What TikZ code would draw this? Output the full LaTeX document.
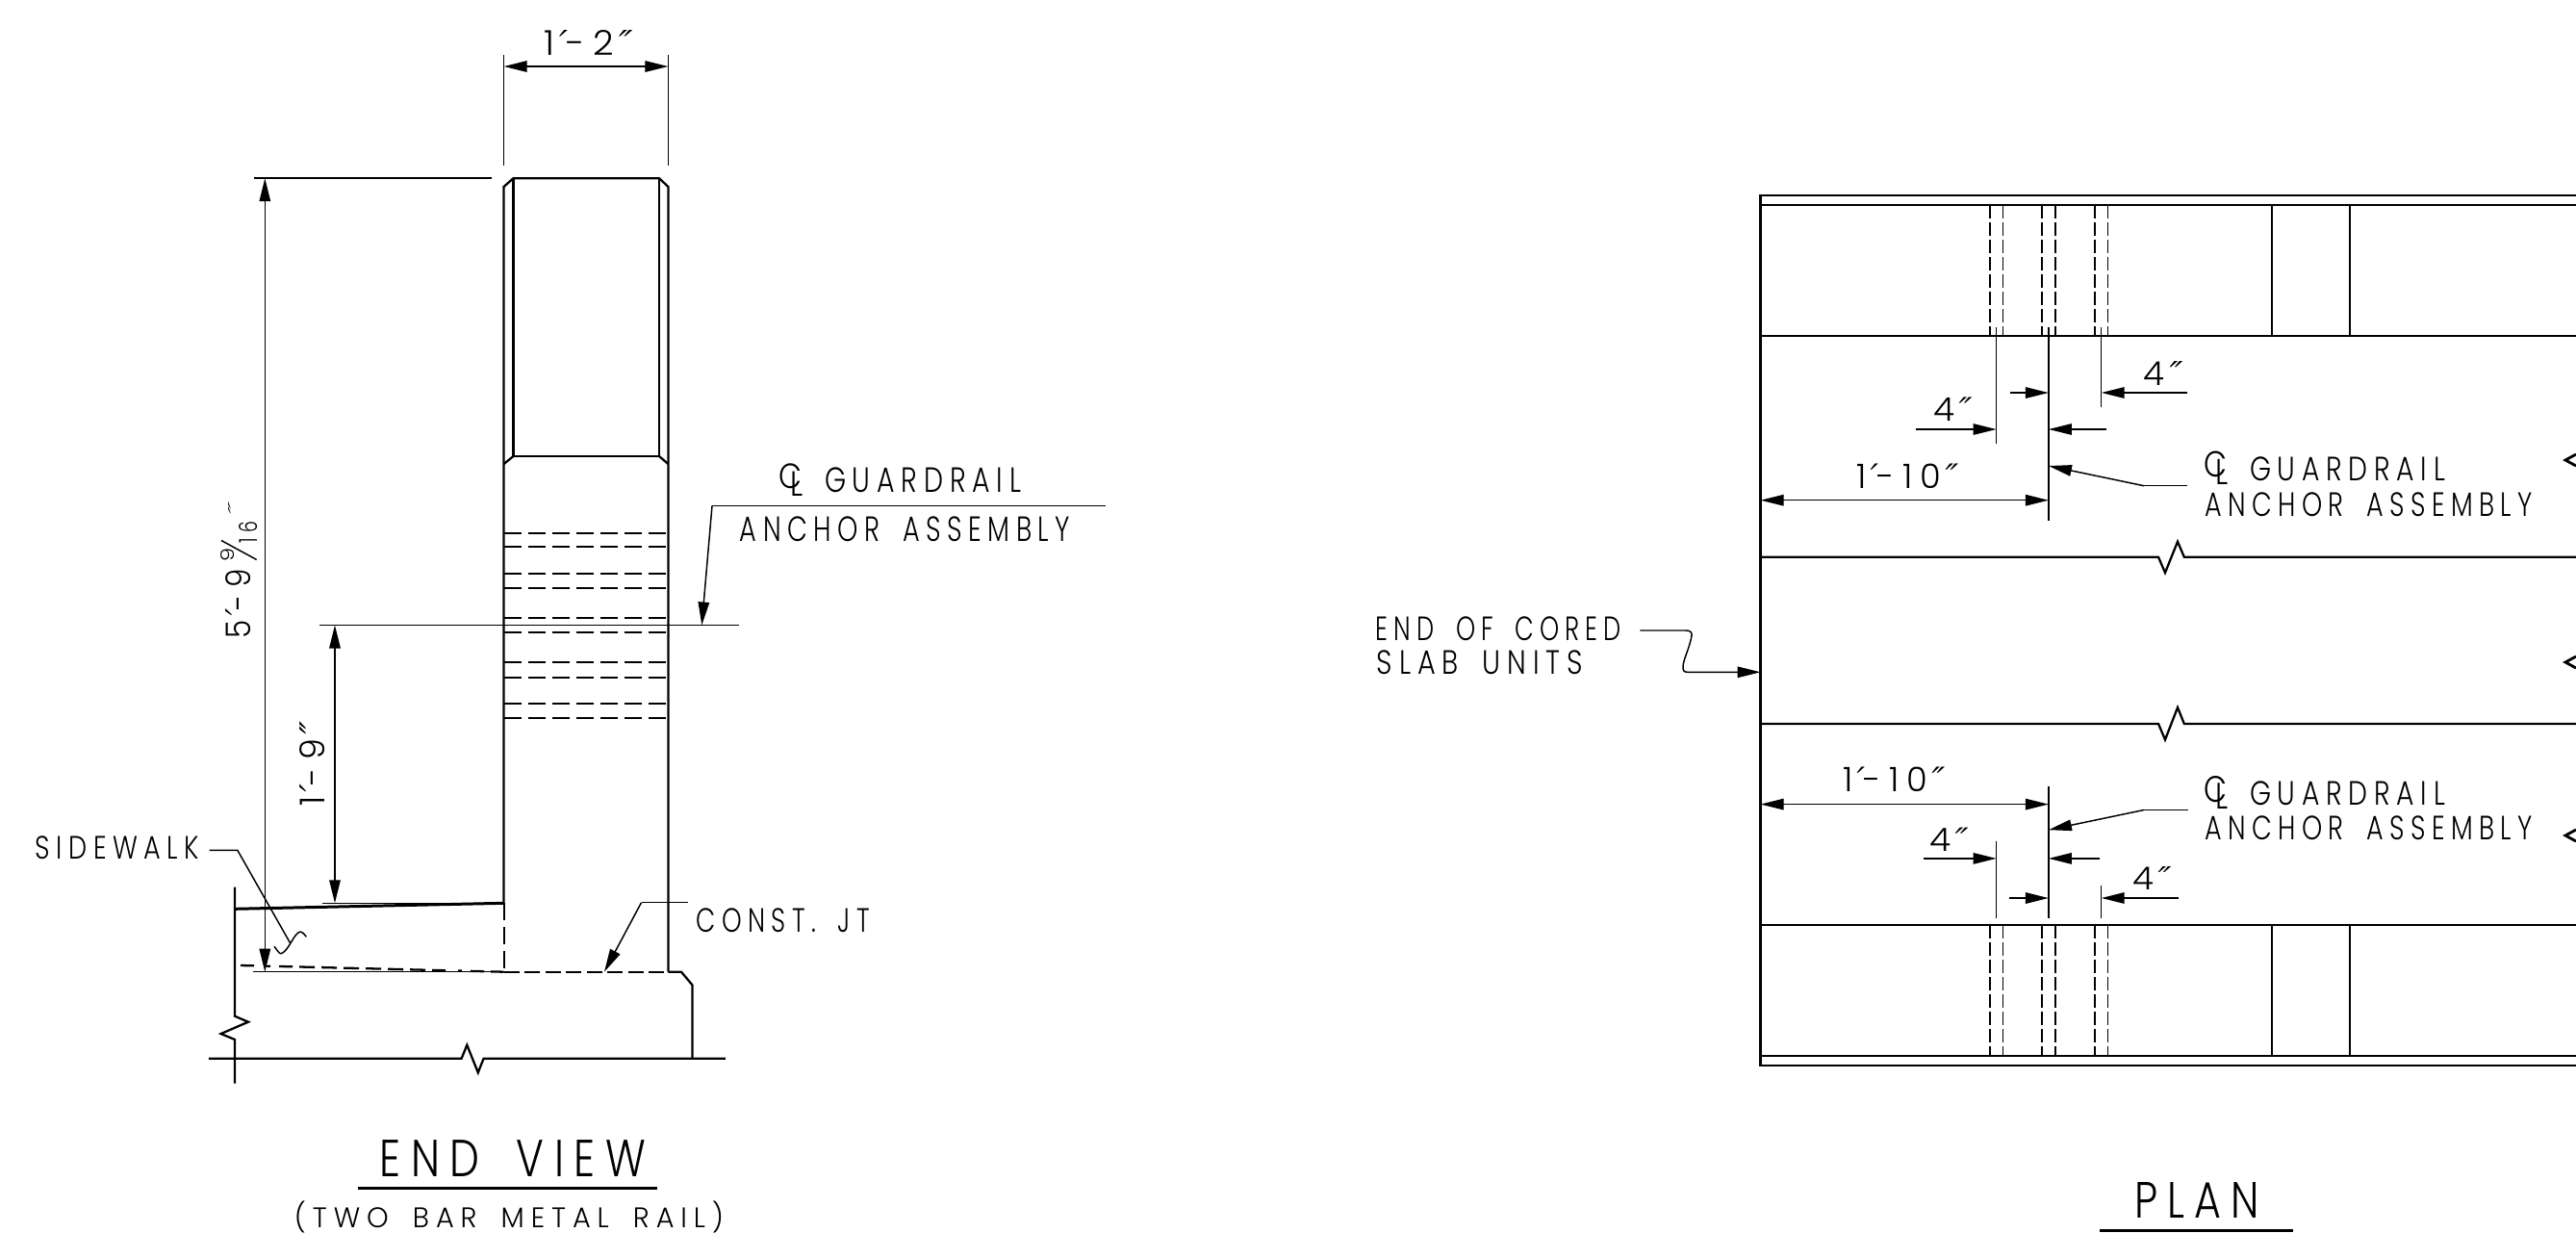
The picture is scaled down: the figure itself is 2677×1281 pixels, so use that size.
\documentclass[tikz,border=0pt]{standalone}
\usepackage{fontspec}
\usepackage{graphicx}
\usetikzlibrary{arrows.meta}
\newfontfamily\cadfont[LetterSpace=24,WordSpace=1.7]{Poppins Light}
\newfontfamily\clfont{Poppins Light}
\newfontfamily\slfont[FakeSlant=0.3]{DejaVu Sans}
\newcommand\pp{\kern-0.05em{\slfont ′}\kern0.14em}
\newcommand\ppp{\kern-0.05em{\slfont ″}}
\newlength{\pxu}\setlength{\pxu}{0.01cm}
\tikzset{
  lbl/.style={inner sep=0pt,outer sep=0pt,text=black},
  obj/.style={line width=0.65pt,line cap=butt},
  dimln/.style={line width=0.42pt},
  tip/.style={-{Triangle[length=0.24cm,width=0.115cm]}},
  tips/.style={{Triangle[length=0.24cm,width=0.115cm]}-{Triangle[length=0.24cm,width=0.115cm]}},
  hid/.style={line width=0.55pt,dash pattern=on 0.18cm off 0.07cm},
  hidv/.style={line width=0.42pt,dash pattern=on 0.135cm off 0.045cm},
  titleline/.style={line width=0.85pt}
}
% [options]{name}{x,y}{width}{height}{text}
\newcommand\lab[5][]{\node[lbl,#1] (#2) at (#3) {\resizebox*{#4\pxu}{#5\pxu}{\cadfont\labtext}};}
\newcommand\T[6][]{\def\labtext{#6}\lab[#1]{#2}{#3}{#4}{#5}}
\newcommand\CL[3]{\node[lbl] (#1) at (#2) {\resizebox*{25\pxu}{#3\pxu}{\clfont C\kern-0.39em\lower0.2em\hbox{L}}};}
\begin{document}
\begin{tikzpicture}[x=0.01cm,y=-0.01cm]
\useasboundingbox (0,0) rectangle (2677,1281);
%% ---------- END VIEW ----------
\coordinate (pTL) at (523.6,194);
\coordinate (pTR) at (694.4,194);
% post
\draw[obj] (523.6,938.3) -- (pTL) -- (533.5,185.2) -- (685,185.2) -- (pTR) -- (694.4,1009.7);
\draw[obj] (533.5,185.2) -- (533.5,474) -- (685,474) -- (685,185.2);
\draw[obj] (523.6,482) -- (533.5,474) (685,474) -- (694.4,482);
\foreach \yy in {553.6,568.4,596,610.7,641.8,657,688.3,703.6,730.6,745.9}
  \draw[hid] (523.6,\yy) -- (694.4,\yy);
% slab
\draw[obj] (244,921.7) -- (244,1055.7) -- (258,1061.7) -- (229.6,1074) -- (244,1080) -- (244,1125.7);
\draw[line width=0.85pt] (244,944.3) -- (523.6,938.3);
\draw[hid] (523.6,938.3) -- (523.6,1009.7);
\draw[dimln] (263,1009.7) -- (523.6,1009.7);
\draw[hid,dash pattern=on 0.16cm off 0.055cm] (523.6,1009.7) -- (694.4,1009.7);
\draw[obj,dash pattern=on 0.14cm off 0.13cm on 0.04cm off 0.09cm on 0.14cm off 0.07cm on 0.16cm off 0.07cm on 0.16cm off 0.07cm on 0.16cm off 0.07cm on 0.16cm off 0.07cm on 0.16cm off 0.07cm on 0.16cm off 0.07cm]
  (250,1003) -- (523.6,1009.7);
\draw[obj] (694.4,1009.7) -- (708,1009.7) -- (719.4,1023.3) -- (719.4,1099.7);
\draw[obj] (216.8,1099.7) -- (470.7,1099.7) -- (479.6,1099.7) -- (485.3,1085.7) -- (496.8,1114.3) -- (502.6,1099.7) -- (753.8,1099.7);
% dimensions
\draw[dimln] (523.6,57) -- (523.6,172.4) (694.4,57) -- (694.4,172.4);
\draw[dimln,tips] (523.6,69) -- (694.4,69);
\draw[dimln] (264,185.2) -- (511,185.2);
\draw[dimln,tips] (275.3,185.2) -- (275.3,1009.7);
\draw[dimln] (332,649.5) -- (767.6,649.5);
\draw[dimln,tips] (348,649.5) -- (348,938.3);
\draw[dimln] (335,938.3) -- (523.6,938.3);
\T{d1}{608,44.6}{85}{26}{1\pp-2\ppp}
\T[rotate=90]{d2a}{248,627}{72}{26}{5\pp-9}
\T[rotate=90]{d2b}{236.5,576}{14}{14}{9}
\T[rotate=90]{d2c}{257.6,553}{22}{19}{16}
\T[rotate=90]{d2d}{243,533}{11}{10}{\ppp}
\draw[dimln] (230,561.5) -- (266.7,581.5);
\T[rotate=90]{d3}{325,797}{81}{26}{1\pp-9\ppp}
% labels
\T{g1}{959,499}{204}{26}{GUARDRAIL}
\CL{g1cl}{822,498.5}{33}
\T{g2}{940.5,550}{343}{26}{ANCHOR ASSEMBLY}
\coordinate (g1shelf) at (1149,525.5);
\coordinate (g1knee) at (740,525.5);
\coordinate (g1tip) at (729.3,649.5);
\draw[dimln] (g1shelf) -- (g1knee);
\draw[dimln,tip] (g1knee) -- (g1tip);
\T{sw}{122,881}{170}{24}{SIDEWALK}
\coordinate (swa) at (217.5,883.3);
\coordinate (swb) at (246.8,883.3);
\coordinate (swc) at (301.7,980);
\draw[dimln] (swa) -- (swb) -- (swc);
\draw[dimln] (285,983.3) .. controls (288,987) and (290,991) .. (292,990.7) .. controls (298,989) and (303,977) .. (307,972) .. controls (311,967) and (313,966) .. (318.3,973.3);
\T{cj}{814,956.7}{180}{25}{CONST. JT}
\coordinate (cja) at (715,937.7);
\coordinate (cjb) at (666.5,937.7);
\coordinate (cjc) at (628,1009.7);
\draw[dimln] (cja) -- (cjb);
\draw[dimln,tip] (cjb) -- (cjc);
\T{t1}{533,1204}{276}{38}{END VIEW}
\draw[titleline] (372.4,1234.3) -- (683,1234.3);
\T{t2}{529,1264}{446}{33}{(TWO BAR METAL RAIL)}
%% ---------- PLAN ----------
\draw[obj] (2677,203.3) -- (1829.6,203.3) -- (1829.6,1106.7) -- (2677,1106.7);
\draw[obj] (1829.6,213.3) -- (2677,213.3);
\draw[obj] (1829.6,349.3) -- (2677,349.3);
\draw[obj] (1829.6,961) -- (2677,961);
\draw[obj] (1829.6,1096.7) -- (2677,1096.7);
\draw[obj] (2361,213.3) -- (2361,349.3) (2442,213.3) -- (2442,349.3);
\draw[obj] (2361,961) -- (2361,1096.7) (2442,961) -- (2442,1096.7);
\foreach \xx in {2067.9,2081.3,2122.1,2136,2177,2190.4}{
  \draw[hidv] (\xx,213.3) -- (\xx,349.3);
  \draw[hidv] (\xx,961) -- (\xx,1096.7);
}
\foreach \yy/\ya/\yb in {578.7/562.7/595,751.9/735/768.5}
  \draw[obj] (1829.6,\yy) -- (2239.6,\yy) -- (2243,\yy) -- (2250,\yb) -- (2263,\ya) -- (2269.8,\yy) -- (2677,\yy);
% arrowheads cut by the picture edge
\foreach \yy in {478,688,868}
  \draw[obj,line width=0.8pt] (2677,\yy-6) -- (2666,\yy) -- (2677,\yy+6);
% top dimensions
\draw[dimln] (2074.6,340) -- (2074.6,460.7) (2128.9,340) -- (2128.9,540.7) (2183.7,340) -- (2183.7,423.3);
\draw[dimln,tip] (2088.6,408) -- (2128.9,408);
\draw[dimln,tip] (2273,408) -- (2183.7,408);
\draw[dimln,tip] (1990.7,446) -- (2074.6,446);
\draw[dimln,tip] (2189,446) -- (2128.9,446);
\draw[dimln,tips] (1829.6,519.7) -- (2128.9,519.7);
\T{p1}{1979,494.5}{100}{25.6}{1\pp-10\ppp}
\T{p2}{2026.5,425}{33.6}{24.6}{4\ppp}
\T{p3}{2244.6,387.5}{33.5}{25}{4\ppp}
\T{p4}{2439.5,487.5}{203}{25}{GUARDRAIL}
\CL{p4cl}{2303,486}{34}
\T{p5}{2461.5,524.2}{341}{25}{ANCHOR ASSEMBLY}
\coordinate (p4a) at (2273,504.7);
\coordinate (p4b) at (2227.9,504.7);
\coordinate (p4c) at (2128.9,484);
\draw[dimln] (p4a) -- (p4b);
\draw[dimln,tip] (p4b) -- (p4c);
% bottom dimensions
\draw[dimln] (2074.6,874) -- (2074.6,953.7) (2128.9,816.7) -- (2128.9,953.7) (2183.7,920) -- (2183.7,953.7);
\draw[dimln,tip] (1999,891.9) -- (2074.6,891.9);
\draw[dimln,tip] (2182,891.9) -- (2128.9,891.9);
\draw[dimln,tip] (2087.5,933) -- (2128.9,933);
\draw[dimln,tip] (2264,933) -- (2183.7,933);
\draw[dimln,tips] (1829.6,835.6) -- (2128.9,835.6);
\T{p6}{1965,810.2}{100}{25.6}{1\pp-10\ppp}
\T{p7}{2021.9,872.2}{33.8}{24.4}{4\ppp}
\T{p8}{2233.4,912.5}{33.5}{24}{4\ppp}
\T{p9}{2439.5,824}{203}{25}{GUARDRAIL}
\CL{p9cl}{2303,823.3}{34.7}
\T{p10}{2461.5,859.8}{341}{25}{ANCHOR ASSEMBLY}
\coordinate (p9a) at (2273.7,841.5);
\coordinate (p9b) at (2227.9,841.5);
\coordinate (p9c) at (2128.9,862.2);
\draw[dimln] (p9a) -- (p9b);
\draw[dimln,tip] (p9b) -- (p9c);
% end of cored
\T{e1}{1557.5,653.5}{255}{25}{END OF CORED}
\T{e2}{1537.8,688}{214}{25}{SLAB UNITS}
\coordinate (e1a) at (1704.3,655);
\coordinate (e1b) at (1829.6,698.3);
\draw[dimln,tip] (e1a) -- (1752,655) .. controls (1758,655) and (1759,658) .. (1757.5,663) .. controls (1755,675) and (1749,686) .. (1749,693) .. controls (1749,697) and (1750,698.3) .. (1754,698.3) -- (e1b);
\T{t3}{2283,1247}{130}{37}{PLAN}
\draw[titleline] (2182,1278.5) -- (2383,1278.5);
\end{tikzpicture}
\end{document}
